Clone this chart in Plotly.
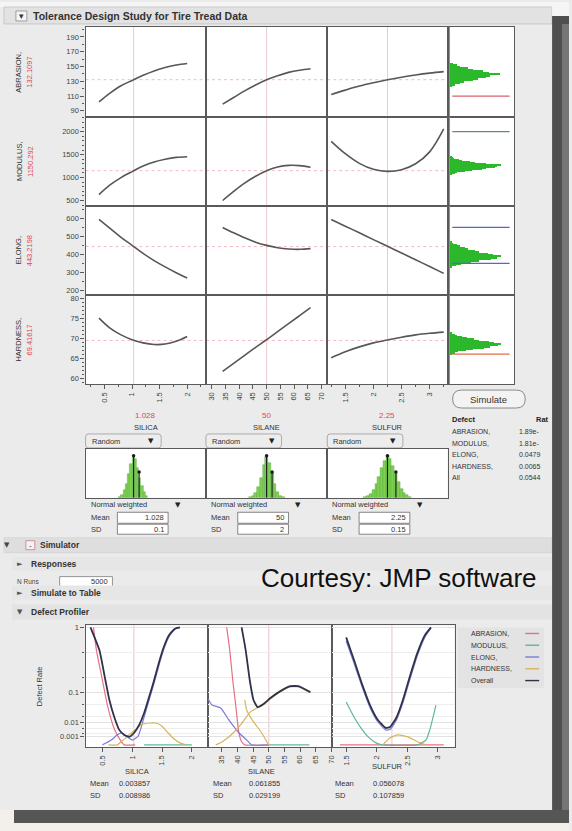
import plotly.graph_objects as go

W, H = 572, 831
FONT = "Liberation Sans, Arial, sans-serif"
SYM = "DejaVu Sans, sans-serif"

# ---------------- data ----------------
FACTORS = ["SILICA", "SILANE", "SULFUR"]
FACTOR_VALUES = [1.028, 50, 2.25]
FACTOR_VALUE_LABELS = ["1.028", "50", "2.25"]
FACTOR_SD = [0.1, 2, 0.15]
FACTOR_SD_LABELS = ["0.1", "2", "0.15"]

RESPONSES = ["ABRASION,", "MODULUS,", "ELONG,", "HARDNESS,"]
PREDICTED = [132.1097, 1150.292, 443.2198, 69.41617]
PREDICTED_LABELS = ["132.1097", "1150.292", "443.2198", "69.41617"]

SILICA_GRID = [0.4, 0.6, 0.8, 1.0, 1.2, 1.4, 1.6, 1.8, 2.0]
SILANE_GRID = [34, 38, 42, 46, 50, 54, 58, 62, 66]
SULFUR_GRID = [1.25, 1.5, 1.75, 2.0, 2.25, 2.5, 2.75, 3.0, 3.25]

ABRASION_BY_SILICA = [102, 114, 124, 131, 138, 144, 148.5, 152, 154]
ABRASION_BY_SILANE = [99, 108, 117, 125, 132, 137.5, 142, 145, 147]
ABRASION_BY_SULFUR = [112, 118, 123.5, 128, 132, 135.5, 138.5, 141, 143]
MODULUS_BY_SILICA = [630, 840, 1000, 1130, 1250, 1340, 1400, 1440, 1455]
MODULUS_BY_SILANE = [500, 700, 880, 1030, 1150, 1230, 1265, 1260, 1225]
MODULUS_BY_SULFUR = [1790, 1520, 1310, 1180, 1135, 1170, 1300, 1560, 2060]
ELONG_BY_SILICA = [595, 545, 495, 450, 405, 365, 330, 298, 268]
ELONG_BY_SILANE = [550, 520, 492, 468, 450, 437, 430, 428, 432]
ELONG_BY_SULFUR = [594, 557, 520, 482, 445, 408, 370, 332, 294]
HARDNESS_BY_SILICA = [75.0, 72.5, 70.8, 69.6, 68.8, 68.4, 68.5, 69.2, 70.4]
HARDNESS_BY_SILANE = [61.7, 63.7, 65.7, 67.7, 69.6, 71.6, 73.6, 75.6, 77.6]
HARDNESS_BY_SULFUR = [65.1, 66.6, 67.8, 68.8, 69.5, 70.2, 70.8, 71.2, 71.5]

# simulated response histograms
ABRASION_HIST_BINS = [124, 126, 128, 130, 132, 134, 136, 138, 140, 142, 144, 146, 148, 150, 152, 154]
ABRASION_HIST_COUNTS = [4, 9, 19, 28, 45, 55, 72, 80, 98, 77, 66, 46, 36, 20, 13, 5]
MODULUS_HIST_BINS = [1090, 1110, 1130, 1150, 1170, 1190, 1210, 1230, 1250, 1270, 1290, 1310, 1330, 1350, 1370, 1390, 1410, 1430, 1450]
MODULUS_HIST_COUNTS = [3, 9, 14, 30, 43, 64, 72, 90, 94, 100, 86, 72, 49, 40, 24, 17, 8, 5, 2]
ELONG_HIST_BINS = [336, 344, 352, 360, 368, 376, 384, 392, 400, 408, 416, 424, 432, 440, 448, 456, 464, 472]
ELONG_HIST_COUNTS = [4, 11, 21, 42, 58, 82, 93, 100, 86, 76, 58, 50, 36, 29, 19, 13, 6, 3]
HARDNESS_HIST_BINS = [66.0, 66.3, 66.6, 66.9, 67.2, 67.5, 67.8, 68.1, 68.4, 68.7, 69.0, 69.3, 69.6, 69.9, 70.2, 70.5, 70.8, 71.1]
HARDNESS_HIST_COUNTS = [3, 9, 15, 31, 46, 68, 80, 95, 100, 88, 78, 58, 47, 33, 23, 13, 9, 3]

ABRASION_LIMITS = [110]
MODULUS_LIMITS = [2000]
ELONG_LIMITS = [350, 550]
HARDNESS_LIMITS = [66]

# factor distributions (random inputs)
SILICA_DIST_BINS = [0.78, 0.82, 0.86, 0.90, 0.94, 0.98, 1.02, 1.06, 1.10, 1.14, 1.18, 1.22, 1.26]
SILICA_DIST_HEIGHTS = [3, 8, 18, 34, 56, 80, 98, 92, 72, 48, 28, 13, 5]
SILANE_DIST_BINS = [44, 45, 46, 47, 48, 49, 50, 51, 52, 53, 54, 55, 56]
SILANE_DIST_HEIGHTS = [2, 5, 12, 26, 48, 77, 98, 82, 58, 32, 14, 5, 2]
SULFUR_DIST_BINS = [1.85, 1.9, 1.95, 2.0, 2.05, 2.1, 2.15, 2.2, 2.25, 2.3, 2.35, 2.4, 2.45, 2.5, 2.55, 2.6, 2.65]
SULFUR_DIST_HEIGHTS = [2, 5, 10, 19, 33, 50, 70, 88, 99, 92, 76, 56, 37, 22, 12, 6, 2]
DIST_MARK_HEIGHTS = [100, 61]

# defect profiler (defect rates)
DEF_SILICA_OVERALL_X = [0.3, 0.45, 0.55, 0.617, 0.7, 0.783, 0.867, 0.95, 1.033, 1.117, 1.2, 1.283, 1.367, 1.45, 1.533, 1.617, 1.717, 1.8]
DEF_SILICA_OVERALL = [1, 0.535, 0.181, 0.0655, 0.018, 0.0039, 0.0015, 0.001, 0.0024, 0.0078, 0.0259, 0.078, 0.181, 0.364, 0.60, 0.82, 0.97, 1]
DEF_SILICA_ABRASION_X = [0.35, 0.4, 0.5, 0.583, 0.7, 0.8, 0.867, 1.05]
DEF_SILICA_ABRASION = [1, 0.535, 0.181, 0.0474, 0.0045, 0.0004, 0.00004, 0.00004]
DEF_SILICA_MODULUS_X = [1.2, 1.5, 1.8, 2.0]
DEF_SILICA_MODULUS = [0.00004, 0.00004, 0.00004, 0.00004]
DEF_SILICA_ELONG_X = [0.5, 0.65, 0.75, 0.83, 0.9, 1.0, 1.1, 1.2, 1.283, 1.367, 1.45, 1.533, 1.617, 1.717, 1.8]
DEF_SILICA_ELONG = [0.00004, 0.0004, 0.0016, 0.0024, 0.0012, 0.0004, 0.0012, 0.018, 0.065, 0.16, 0.33, 0.56, 0.79, 0.96, 1]
DEF_SILICA_HARDNESS_X = [0.6, 0.75, 0.85, 0.95, 1.05, 1.15, 1.3, 1.4, 1.5, 1.6, 1.7, 1.8, 1.9]
DEF_SILICA_HARDNESS = [0.00004, 0.00004, 0.0004, 0.0016, 0.004, 0.0078, 0.0098, 0.0098, 0.0066, 0.0024, 0.0006, 0.00013, 0.00004]

DEF_SILANE_OVERALL_X = [41.3, 42.6, 43.9, 45.1, 46.4, 48.3, 50.5, 53.7, 56.9, 59.5, 61.4, 63.3]
DEF_SILANE_OVERALL = [1, 0.535, 0.181, 0.0655, 0.041, 0.0507, 0.0736, 0.108, 0.138, 0.138, 0.12, 0.1025]
DEF_SILANE_ABRASION_X = [36.5, 37.5, 38.45, 39.4, 40.4, 41.3, 42.3, 50]
DEF_SILANE_ABRASION = [1, 0.535, 0.181, 0.0474, 0.0024, 0.00021, 0.00004, 0.00004]
DEF_SILANE_MODULUS_X = [49.9, 55, 63]
DEF_SILANE_MODULUS = [0.00004, 0.00004, 0.00004]
DEF_SILANE_ELONG_X = [30.6, 31.8, 34.6, 37.2, 40.4, 42.9, 44.5, 50]
DEF_SILANE_ELONG = [0.07, 0.0474, 0.0383, 0.0137, 0.0024, 0.00042, 0.00004, 0.00004]
DEF_SILANE_HARDNESS_X = [33, 35, 38, 41, 44, 46.4, 48.3, 50.5, 53.7, 56.9, 59.5, 61.4, 63.3, None, 42.3, 42.9, 45.1, 47.7, 49.9]
DEF_SILANE_HARDNESS = [0.00004, 0.0002, 0.0016, 0.008, 0.028, 0.039, 0.048, 0.07, 0.104, 0.133, 0.133, 0.116, 0.099, None, 0.0655, 0.0331, 0.0111, 0.0024, 0.00004]

DEF_SULFUR_OVERALL_X = [1.5, 1.63, 1.76, 1.89, 2.02, 2.15, 2.22, 2.32, 2.43, 2.54, 2.67, 2.79, 2.89]
DEF_SULFUR_OVERALL = [0.774, 0.389, 0.152, 0.0474, 0.0137, 0.0052, 0.006, 0.0166, 0.0655, 0.206, 0.503, 0.82, 1]
DEF_SULFUR_ABRASION_X = [1.4, 3.1]
DEF_SULFUR_ABRASION = [0.00004, 0.00004]
DEF_SULFUR_MODULUS_X = [1.5, 1.61, 1.73, 1.86, 1.99, 2.1, 2.67, 2.81, 2.87, 2.94, 2.97]
DEF_SULFUR_MODULUS = [0.0575, 0.0219, 0.006, 0.001, 0.00013, 0.00004, 0.00004, 0.00042, 0.0039, 0.0259, 0.0474]
DEF_SULFUR_ELONG_X = [1.5, 1.63, 1.76, 1.89, 2.02, 2.15, 2.22, 2.32, 2.43, 2.54, 2.67, 2.79, 2.89]
DEF_SULFUR_ELONG = [0.70, 0.35, 0.135, 0.04, 0.011, 0.0038, 0.0042, 0.013, 0.055, 0.18, 0.46, 0.78, 0.98]
DEF_SULFUR_HARDNESS_X = [2.1, 2.22, 2.35, 2.51, 2.67, 2.81]
DEF_SULFUR_HARDNESS = [0.00004, 0.00078, 0.0016, 0.001, 0.00021, 0.00004]

DEF_MEANS = ["0.003857", "0.061855", "0.056078"]
DEF_SDS = ["0.008986", "0.029199", "0.107859"]
DEF_Y_TICK_RATES = [1, 0.1, 0.01, 0.001]
DEF_Y_TICK_LABELS = ["1", "0.1", "0.01", "0.001"]
DEF_GRID_RATES = [0.5, 0.2, 0.05, 0.02, 0.005, 0.002]

DEFECT_TABLE_NAMES = ["ABRASION,", "MODULUS,", "ELONG,", "HARDNESS,", "All"]
DEFECT_TABLE_RATES = ["1.89e-", "1.81e-", "0.0479", "0.0065", "0.0544"]
LEGEND_NAMES = ["ABRASION,", "MODULUS,", "ELONG,", "HARDNESS,", "Overall"]

# ---------------- style / layout helpers ----------------
RESP_COLORS = ["#e86f82", "#5fb896", "#7b7bdb", "#d8b35a"]
OVERALL_COLOR = "#2f3248"
LIMIT_COLORS = ["#d9606c", "#5f8f6f", "#5566d0", "#e07048"]
FRAME = "#5a5a5a"
CURVE = "#575757"
REF_LINE = "rgba(228,130,140,0.55)"

COL_PX = [(86, 207), (207, 329), (329, 450), (450, 517)]
ROW_PX = [(25, 115), (115, 204), (204, 294), (294, 383)]
DIST_PX = (448, 497)
DEF_COL_PX = [(86, 209), (209, 334), (334, 457)]
DEF_ROW_PX = (625, 747)

X_RANGES = [[0.156, 2.34], [27.9, 72.1], [1.18, 3.32]]
Y_RANGES = [[82, 203.5], [391, 2326], [172, 672], [58.5, 80.7]]
X_TICKS = [[0.5, 1, 1.5, 2], [30, 35, 40, 45, 50, 55, 60, 65, 70], [1.5, 2, 2.5, 3]]
X_MINOR = [0.25, None, 0.25]
Y_TICKS = [[90, 110, 130, 150, 170, 190], [500, 1000, 1500, 2000], [200, 300, 400, 500, 600], [60, 65, 70, 75, 80]]
Y_MINOR = [10, 100, 50, 1]
HIST_X_RANGE = [-4, 128]
DIST_Y_RANGE = [0, 116]
DEF_X_RANGES = [[0.217, 2.27], [30.5, 70.3], [1.272, 3.277]]
DEF_X_TICKS = [[0.5, 1, 1.5, 2], [35, 40, 45, 50, 55, 60, 65, 70], [1.5, 2, 2.5, 3]]
DEF_Y_RANGE = [0.015, 1.016]


def cbrt(v):
    return None if v is None else v ** (1.0 / 3.0)


def dom_x(x0, x1):
    return [x0 / W, x1 / W]


def dom_y(y0, y1):
    return [1 - y1 / H, 1 - y0 / H]


def sfx(n):
    return "" if n == 1 else str(n)


annotations = []
shapes = []


def ann(x, y, text, size=8, color="#333", xa="left", bold=False, angle=0, family=FONT):
    if bold:
        text = "<b>" + text + "</b>"
    annotations.append(dict(x=x / W, y=1 - y / H, xref="paper", yref="paper", text=text,
                            showarrow=False, xanchor=xa, yanchor="middle", textangle=angle,
                            font=dict(size=size, color=color, family=family)))


def rect(x0, y0, x1, y1, fill, line=None, lw=0.8, layer="below"):
    shapes.append(dict(type="rect", xref="paper", yref="paper", x0=x0 / W, x1=x1 / W,
                       y0=1 - y1 / H, y1=1 - y0 / H, fillcolor=fill, layer=layer,
                       line=dict(color=line if line else fill, width=lw if line else 0)))


def pline(x0, y0, x1, y1, color, width=1.2):
    shapes.append(dict(type="line", xref="paper", yref="paper", x0=x0 / W, x1=x1 / W,
                       y0=1 - y0 / H, y1=1 - y1 / H, line=dict(color=color, width=width)))


def rrect(x0, y0, x1, y1, r, fill, line, lw=0.8):
    X = lambda v: v / W
    Y = lambda v: 1 - v / H
    p = (f"M {X(x0 + r)},{Y(y0)} L {X(x1 - r)},{Y(y0)} Q {X(x1)},{Y(y0)} {X(x1)},{Y(y0 + r)} "
         f"L {X(x1)},{Y(y1 - r)} Q {X(x1)},{Y(y1)} {X(x1 - r)},{Y(y1)} L {X(x0 + r)},{Y(y1)} "
         f"Q {X(x0)},{Y(y1)} {X(x0)},{Y(y1 - r)} L {X(x0)},{Y(y0 + r)} Q {X(x0)},{Y(y0)} {X(x0 + r)},{Y(y0)} Z")
    shapes.append(dict(type="path", xref="paper", yref="paper", path=p, fillcolor=fill,
                       line=dict(color=line, width=lw), layer="below"))


fig = go.Figure()
layout = dict(width=W, height=H, margin=dict(l=0, r=0, t=0, b=0), autosize=False,
              paper_bgcolor="#ebebeb", plot_bgcolor="white", showlegend=False, bargap=0,
              font=dict(family=FONT, size=8, color="#333"))

# ---------------- prediction profiler ----------------
GRIDS = [SILICA_GRID, SILANE_GRID, SULFUR_GRID]
PROFILES = [
    [ABRASION_BY_SILICA, ABRASION_BY_SILANE, ABRASION_BY_SULFUR],
    [MODULUS_BY_SILICA, MODULUS_BY_SILANE, MODULUS_BY_SULFUR],
    [ELONG_BY_SILICA, ELONG_BY_SILANE, ELONG_BY_SULFUR],
    [HARDNESS_BY_SILICA, HARDNESS_BY_SILANE, HARDNESS_BY_SULFUR],
]
HISTS = [(ABRASION_HIST_BINS, ABRASION_HIST_COUNTS), (MODULUS_HIST_BINS, MODULUS_HIST_COUNTS),
         (ELONG_HIST_BINS, ELONG_HIST_COUNTS), (HARDNESS_HIST_BINS, HARDNESS_HIST_COUNTS)]
LIMITS = [ABRASION_LIMITS, MODULUS_LIMITS, ELONG_LIMITS, HARDNESS_LIMITS]

for r in range(4):
    for c in range(4):
        n = r * 4 + c + 1
        s = sfx(n)
        xa = dict(domain=dom_x(*COL_PX[c]), anchor="y" + s, showgrid=False, zeroline=False,
                  showline=True, mirror=True, linecolor=FRAME, linewidth=1.4, fixedrange=True)
        ya = dict(domain=dom_y(*ROW_PX[r]), anchor="x" + s, range=Y_RANGES[r], showgrid=False,
                  zeroline=False, showline=True, mirror=True, linecolor=FRAME, linewidth=1.4,
                  fixedrange=True)
        if c < 3:
            xa["range"] = X_RANGES[c]
        else:
            xa.update(range=HIST_X_RANGE, zeroline=True, zerolinecolor="#49c149", zerolinewidth=1)
        if r == 3 and c < 3:
            xa.update(tickmode="array", tickvals=X_TICKS[c], ticks="outside", ticklen=4,
                      tickcolor=FRAME, tickangle=-90, tickfont=dict(size=7.5, color="#444"))
            if X_MINOR[c]:
                xa["minor"] = dict(dtick=X_MINOR[c], tick0=0, ticks="outside", ticklen=2, tickcolor=FRAME)
        else:
            xa.update(showticklabels=False, ticks="")
        if c == 0:
            ya.update(tickmode="array", tickvals=Y_TICKS[r], ticks="outside", ticklen=4,
                      tickcolor=FRAME, tickfont=dict(size=7.5, color="#444"),
                      minor=dict(dtick=Y_MINOR[r], tick0=0, ticks="outside", ticklen=2, tickcolor=FRAME))
        else:
            ya.update(showticklabels=False, ticks="")
        layout["xaxis" + s] = xa
        layout["yaxis" + s] = ya

        if c < 3:
            fig.add_trace(go.Scatter(x=GRIDS[c], y=PROFILES[r][c], mode="lines",
                                     line=dict(color=CURVE, width=1.6, shape="spline"),
                                     xaxis="x" + s, yaxis="y" + s, hoverinfo="skip"))
            shapes.append(dict(type="line", xref="x" + s + " domain", yref="y" + s, x0=0, x1=1,
                               y0=PREDICTED[r], y1=PREDICTED[r], layer="below",
                               line=dict(color=REF_LINE, width=1, dash="dot")))
            shapes.append(dict(type="line", xref="x" + s, yref="y" + s + " domain",
                               x0=FACTOR_VALUES[c], x1=FACTOR_VALUES[c], y0=0, y1=1, layer="below",
                               line=dict(color="rgba(215,170,175,0.6)", width=1)))
        else:
            bins, counts = HISTS[r]
            step = bins[1] - bins[0]
            fig.add_trace(go.Bar(orientation="h", y=bins, x=counts, width=step,
                                 marker=dict(color="#2bb82b", line=dict(width=0)),
                                 xaxis="x" + s, yaxis="y" + s, hoverinfo="skip"))
            for lim in LIMITS[r]:
                shapes.append(dict(type="line", xref="x" + s + " domain", yref="y" + s,
                                   x0=0.07, x1=0.93, y0=lim, y1=lim, layer="above",
                                   line=dict(color=LIMIT_COLORS[r], width=1.3)))

# row labels
for r in range(4):
    rc = (ROW_PX[r][0] + ROW_PX[r][1]) / 2
    ann(19, rc, RESPONSES[r], 7.5, "#333", "center", angle=-90)
    ann(30, rc, PREDICTED_LABELS[r], 7.5, "#e0455a", "center", angle=-90)

# ---------------- factor distributions ----------------
DISTS = [(SILICA_DIST_BINS, SILICA_DIST_HEIGHTS), (SILANE_DIST_BINS, SILANE_DIST_HEIGHTS),
         (SULFUR_DIST_BINS, SULFUR_DIST_HEIGHTS)]
for c in range(3):
    n = 17 + c
    s = sfx(n)
    layout["xaxis" + s] = dict(domain=dom_x(*COL_PX[c]), anchor="y" + s, range=X_RANGES[c],
                               showgrid=False, zeroline=False, showline=True, mirror=True,
                               linecolor=FRAME, linewidth=1.4, showticklabels=False, ticks="",
                               fixedrange=True)
    layout["yaxis" + s] = dict(domain=dom_y(*DIST_PX), anchor="x" + s, range=DIST_Y_RANGE,
                               showgrid=False, zeroline=False, showline=True, mirror=True,
                               linecolor=FRAME, linewidth=1.4, showticklabels=False, ticks="",
                               fixedrange=True)
    bins, hts = DISTS[c]
    step = bins[1] - bins[0]
    fig.add_trace(go.Bar(x=bins, y=hts, width=step,
                         marker=dict(color="#7fd052", line=dict(color="#4aa336", width=0.4)),
                         xaxis="x" + s, yaxis="y" + s, hoverinfo="skip"))
    v, sd = FACTOR_VALUES[c], FACTOR_SD[c]
    fig.add_trace(go.Scatter(x=[v, v, None, v + sd, v + sd],
                             y=[0, DIST_MARK_HEIGHTS[0], None, 0, DIST_MARK_HEIGHTS[1]],
                             mode="lines", line=dict(color="#1a1a1a", width=1.1),
                             xaxis="x" + s, yaxis="y" + s, hoverinfo="skip"))
    fig.add_trace(go.Scatter(x=[v, v + sd], y=DIST_MARK_HEIGHTS, mode="markers",
                             marker=dict(color="#1a1a1a", size=3.5),
                             xaxis="x" + s, yaxis="y" + s, hoverinfo="skip"))

# factor labels and controls
for c in range(3):
    L, R = COL_PX[c]
    cx = (L + R) / 2
    ann(cx, 414, FACTOR_VALUE_LABELS[c], 8, "#e0455a", "center")
    ann(cx, 427, FACTORS[c], 7.5, "#333", "center")
    rrect(L, 433, L + 76, 447, 3, "#ededed", "#9a9a9a")
    ann(L + 4, 440.5, "Random", 7.5, "#333")
    ann(L + 66, 440.5, "▼", 7, "#222", "center", family=SYM)
    ann(L + 3, 504, "Normal weighted", 7.5, "#333")
    ann(L + 93, 504, "▼", 7, "#222", "center", family=SYM)
    ann(L + 3, 517, "Mean", 7.5, "#333")
    rect(L + 32, 511.5, L + 83, 522.5, "white", "#6a6a6a", 0.8)
    ann(L + 81, 517, FACTOR_VALUE_LABELS[c], 7.5, "#333", "right")
    ann(L + 3, 528.5, "SD", 7.5, "#333")
    rect(L + 32, 523.5, L + 83, 533.5, "white", "#6a6a6a", 0.8)
    ann(L + 81, 528.5, FACTOR_SD_LABELS[c], 7.5, "#333", "right")

# Simulate button and defect table
rrect(455, 389, 528, 407, 9, "#f3f3f3", "#8a8a8a", 1)
ann(491.5, 398, "Simulate", 9.5, "#333", "center")
ann(452, 419, "Defect", 7.5, "#222", bold=True)
ann(537, 419, "Rat", 7.5, "#222", bold=True)
for i, (nm, rt) in enumerate(zip(DEFECT_TABLE_NAMES, DEFECT_TABLE_RATES)):
    yy = 431 + i * 11.5
    ann(452, yy, nm, 7, "#333")
    ann(520, yy, rt, 7, "#333")

# ---------------- window chrome ----------------
rect(0, 0, 572, 5, "#f5f5f5")
rect(4, 5, 555, 22, "#e2e2e2", "#c2c2c2", 0.8)
rect(16, 9, 27, 19, "#f6f6f6", "#8a8a8a", 0.8)
ann(21.5, 14, "▾", 9, "#333", "center", family=SYM)
ann(31, 14, "Tolerance Design Study for Tire Tread Data", 10.5, "#333", bold=True)

rect(4, 537, 555, 552, "#dedede", "#cfcfcf", 0.6)
ann(7.5, 544.5, "▼", 7, "#444", "center", family=SYM)
rect(26, 540, 35, 549, "#f3f3f3", "#c87a86", 0.8)
ann(30.5, 544.5, "-", 8, "#333", "center")
ann(38, 544.5, "Simulator", 8.5, "#333", bold=True)
rect(12, 556, 555, 570, "#e6e6e6")
ann(20, 563, "►", 7, "#555", "center", family=SYM)
ann(29, 563, "Responses", 8.5, "#333", bold=True)
ann(15, 581, "N Runs", 6.5, "#444")
rect(60, 576, 113, 586, "white", "#7a7a7a", 0.8)
ann(111, 581, "5000", 7.5, "#333", "right")
rect(12, 585, 555, 599, "#e6e6e6")
ann(20, 592, "►", 7, "#555", "center", family=SYM)
ann(29, 592, "Simulate to Table", 8.5, "#333", bold=True)
rect(12, 604, 555, 619, "#e3e3e3")
ann(20, 611, "▼", 7, "#555", "center", family=SYM)
ann(29, 611, "Defect Profiler", 8.5, "#333", bold=True)

ann(401, 577, "Courtesy: JMP software", 26, "#111", "center", family=FONT)

# shadows
rect(555, 14, 572, 824, "#4f4f4f")
rect(565, 22, 572, 818, "#767676")
rect(14, 810, 572, 823, "#565656")
rect(0, 823, 572, 831, "#f3f0ec")
rect(0, 810, 14, 831, "#f3f0ec")
rect(555, 0, 572, 14, "#f5f5f5")

# ---------------- defect profiler ----------------
DEF_CURVES = [
    [(DEF_SILICA_ABRASION_X, DEF_SILICA_ABRASION), (DEF_SILICA_MODULUS_X, DEF_SILICA_MODULUS),
     (DEF_SILICA_ELONG_X, DEF_SILICA_ELONG), (DEF_SILICA_HARDNESS_X, DEF_SILICA_HARDNESS),
     (DEF_SILICA_OVERALL_X, DEF_SILICA_OVERALL)],
    [(DEF_SILANE_ABRASION_X, DEF_SILANE_ABRASION), (DEF_SILANE_MODULUS_X, DEF_SILANE_MODULUS),
     (DEF_SILANE_ELONG_X, DEF_SILANE_ELONG), (DEF_SILANE_HARDNESS_X, DEF_SILANE_HARDNESS),
     (DEF_SILANE_OVERALL_X, DEF_SILANE_OVERALL)],
    [(DEF_SULFUR_ABRASION_X, DEF_SULFUR_ABRASION), (DEF_SULFUR_MODULUS_X, DEF_SULFUR_MODULUS),
     (DEF_SULFUR_ELONG_X, DEF_SULFUR_ELONG), (DEF_SULFUR_HARDNESS_X, DEF_SULFUR_HARDNESS),
     (DEF_SULFUR_OVERALL_X, DEF_SULFUR_OVERALL)],
]
CURVE_COLORS = RESP_COLORS + [OVERALL_COLOR]
CURVE_WIDTHS = [1.2, 1.2, 1.2, 1.2, 1.8]

for c in range(3):
    n = 20 + c
    s = sfx(n)
    layout["xaxis" + s] = dict(domain=dom_x(*DEF_COL_PX[c]), anchor="y" + s, range=DEF_X_RANGES[c],
                               showgrid=False, zeroline=False, showline=True, mirror=True,
                               linecolor=FRAME, linewidth=1.4, tickmode="array",
                               tickvals=DEF_X_TICKS[c], ticks="outside", ticklen=4, tickcolor=FRAME,
                               tickangle=-90, tickfont=dict(size=7.5, color="#444"), fixedrange=True)
    ya = dict(domain=dom_y(*DEF_ROW_PX), anchor="x" + s, range=DEF_Y_RANGE, zeroline=False,
              showline=True, mirror=True, linecolor=FRAME, linewidth=1.4, tickmode="array",
              tickvals=[cbrt(v) for v in DEF_Y_TICK_RATES], ticktext=DEF_Y_TICK_LABELS,
              showgrid=True, gridcolor="#e2e2e2", gridwidth=1, fixedrange=True,
              minor=dict(tickmode="array", tickvals=[cbrt(v) for v in DEF_GRID_RATES],
                         showgrid=True, gridcolor="#ededed", ticks="outside" if c == 0 else "",
                         ticklen=2, tickcolor=FRAME))
    if c == 0:
        ya.update(ticks="outside", ticklen=4, tickcolor=FRAME, tickfont=dict(size=7.5, color="#444"))
    else:
        ya.update(showticklabels=False, ticks="")
    layout["yaxis" + s] = ya
    shapes.append(dict(type="line", xref="x" + s, yref="y" + s + " domain",
                       x0=FACTOR_VALUES[c], x1=FACTOR_VALUES[c], y0=0, y1=1, layer="below",
                       line=dict(color="rgba(225,150,160,0.6)", width=1)))
    for k, (xs, rs) in enumerate(DEF_CURVES[c]):
        fig.add_trace(go.Scatter(x=xs, y=[cbrt(v) for v in rs], mode="lines",
                                 line=dict(color=CURVE_COLORS[k], width=CURVE_WIDTHS[k], shape="spline",
                                           smoothing=0.45),
                                 connectgaps=False, xaxis="x" + s, yaxis="y" + s, hoverinfo="skip"))

ann(40, 686, "Defect Rate", 7.5, "#333", "center", angle=-90)

DEF_LABEL_POS = [(138, 771, 88, 118), (263, 771, 212, 248), (390, 766, 335, 373)]
for c in range(3):
    cx, cy, mx, vx = DEF_LABEL_POS[c]
    ann(cx, cy, FACTORS[c], 7.5, "#333", "center")
    ann(mx, 783, "Mean", 7.5, "#333")
    ann(vx, 783, DEF_MEANS[c], 7.5, "#333")
    ann(mx, 795, "SD", 7.5, "#333")
    ann(vx, 795, DEF_SDS[c], 7.5, "#333")

# manual legend
rect(460, 627, 547, 688, "#e3e3e3")
for i, nm in enumerate(LEGEND_NAMES):
    yy = 633 + i * 11.8
    ann(471, yy, nm, 7, "#333")
    pline(528, yy, 542, yy, CURVE_COLORS[i], 1.4)

layout["annotations"] = annotations
layout["shapes"] = shapes
fig.update_layout(**layout)
fig.write_html("out.html")
